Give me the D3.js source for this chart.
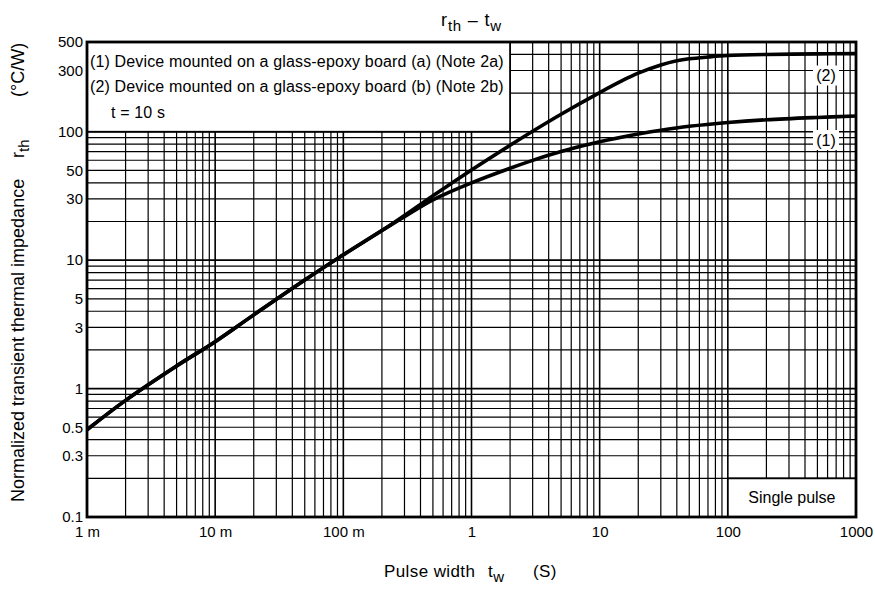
<!DOCTYPE html>
<html><head><meta charset="utf-8">
<script src="https://cdn.jsdelivr.net/npm/d3@7"></script>
<style>body{margin:0;background:#fff;} text{font-family:"Liberation Sans",Arial,sans-serif;fill:#000;}</style>
</head><body><svg id="c" width="875" height="590"></svg>
<script>
const xTickValues = [0.001, 0.01, 0.1, 1, 10, 100, 1000];
const xTickLabels = ["1 m", "10 m", "100 m", "1", "10", "100", "1000"];
const yTickValues = [0.1, 0.3, 0.5, 1, 3, 5, 10, 30, 50, 100, 300, 500];
const yTickLabels = ["0.1", "0.3", "0.5", "1", "3", "5", "10", "30", "50", "100", "300", "500"];
const curve1T = [0.001, 0.002, 0.005, 0.01, 0.02, 0.05, 0.1, 0.2, 0.3, 0.5, 1, 2, 3, 5, 10, 20, 30, 50, 100, 200, 500, 1000];
const curve1R = [0.478, 0.81, 1.5, 2.32, 3.75, 7.0, 11.0, 17.0, 21.8, 29.5, 40, 52, 59.9, 70.2, 83.5, 95.9, 102.7, 110.3, 118.2, 124.1, 129.3, 132.5];
const curve2T = [0.001, 0.002, 0.005, 0.01, 0.02, 0.05, 0.1, 0.2, 0.3, 0.5, 1, 2, 3, 5, 10, 15, 20, 30, 40, 50, 70, 100, 200, 500, 1000];
const curve2R = [0.478, 0.81, 1.5, 2.32, 3.75, 7.0, 11.0, 17.0, 22.3, 31.7, 50.4, 78.5, 101, 137, 202, 250, 286, 331, 357, 370, 382, 392, 400, 404, 406];

const svg = d3.select("#c");
const L = 87, R = 856, T = 42, B = 517;
const x = d3.scaleLog().domain([0.001, 1000]).range([L, R]);
const y = d3.scaleLog().domain([0.1, 500]).range([B, T]);

// grid
const xMinor = [], yMinor = [];
for (let d = 0.001; d < 1000; d *= 10) for (let k = 2; k <= 9; k++) xMinor.push(+(d * k).toPrecision(3));
for (let d = 0.1; d < 500; d *= 10) for (let k = 2; k <= 9; k++) { const v = +(d * k).toPrecision(3); if (v < 500) yMinor.push(v); }
const g = svg.append("g");
g.selectAll(".vx").data(xMinor.concat(xTickValues)).join("line")
  .attr("x1", d => x(d)).attr("x2", d => x(d)).attr("y1", T).attr("y2", B)
  .attr("stroke", "#000").attr("stroke-width", d => xTickValues.includes(d) ? 1.6 : 1.2);
g.selectAll(".hy").data(yMinor.concat([0.1, 1, 10, 100])).join("line")
  .attr("x1", L).attr("x2", R).attr("y1", d => y(d)).attr("y2", d => y(d))
  .attr("stroke", "#000").attr("stroke-width", d => [1, 10, 100].includes(d) ? 1.6 : 1.2);

// legend box (covers grid)
svg.append("rect").attr("x", L).attr("y", T).attr("width", x(2) - L).attr("height", y(100) - T)
  .attr("fill", "#fff").attr("stroke", "#000").attr("stroke-width", 1.8);
const lg = [["(1) Device mounted on a glass-epoxy board (a) (Note 2a)", 90, 67],
            ["(2) Device mounted on a glass-epoxy board (b) (Note 2b)", 90, 92],
            ["t = 10 s", 111, 118]];
svg.selectAll(".lg").data(lg).join("text").attr("x", d => d[1]).attr("y", d => d[2])
  .attr("font-size", 16).attr("letter-spacing", 0.15).text(d => d[0]);

// single pulse box
svg.append("rect").attr("x", x(100)).attr("y", y(0.2)).attr("width", R - x(100)).attr("height", B - y(0.2))
  .attr("fill", "#fff").attr("stroke", "#000").attr("stroke-width", 1.8);
svg.append("text").attr("x", (x(100) + R) / 2).attr("y", 503).attr("text-anchor", "middle")
  .attr("font-size", 16).text("Single pulse");

// curves
const line = d3.line().x(d => x(d[0])).y(d => y(d[1])).curve(d3.curveCatmullRom.alpha(0.5));
[[curve1T, curve1R], [curve2T, curve2R]].forEach(([t, r]) => {
  svg.append("path").datum(t.map((v, i) => [v, r[i]])).attr("d", line)
    .attr("fill", "none").attr("stroke", "#000").attr("stroke-width", 3.6).attr("stroke-linejoin", "round");
});

// curve labels
[["(2)", 75.5], ["(1)", 140]].forEach(([s, yy]) => {
  svg.append("rect").attr("x", 813).attr("y", yy - 10).attr("width", 26).attr("height", 20).attr("fill", "#fff");
  svg.append("text").attr("x", 826).attr("y", yy + 5.5).attr("text-anchor", "middle").attr("font-size", 16).text(s);
});

// frame
svg.append("rect").attr("x", L).attr("y", T).attr("width", R - L).attr("height", B - T)
  .attr("fill", "none").attr("stroke", "#000").attr("stroke-width", 2.8);

// axes tick labels
const xa = d3.axisBottom(x).tickValues(xTickValues).tickFormat((d, i) => xTickLabels[i]).tickSize(0).tickPadding(9);
const xg = svg.append("g").attr("transform", `translate(0,${B})`).call(xa);
xg.select(".domain").remove();
xg.selectAll("text").attr("font-size", 15).attr("font-family", "Liberation Sans, Arial, sans-serif").attr("fill", "#000");
const ya = d3.axisLeft(y).tickValues(yTickValues).tickFormat((d, i) => yTickLabels[i]).tickSize(0).tickPadding(4);
const yg = svg.append("g").attr("transform", `translate(${L},0)`).call(ya);
yg.select(".domain").remove();
yg.selectAll("text").attr("font-size", 15).attr("font-family", "Liberation Sans, Arial, sans-serif").attr("fill", "#000");

// title
const tt = svg.append("text").attr("x", 471.5).attr("y", 26).attr("text-anchor", "middle").attr("font-size", 18).attr("letter-spacing", 0.8);
tt.append("tspan").text("r");
tt.append("tspan").attr("dy", 5).attr("font-size", 15).text("th");
tt.append("tspan").attr("dy", -5).text(" \u2013 t");
tt.append("tspan").attr("dy", 5).attr("font-size", 15).text("w");

// x label
const xl = svg.append("text").attr("y", 577).attr("font-size", 17).attr("letter-spacing", 0.4);
xl.append("tspan").attr("x", 384).text("Pulse width");
xl.append("tspan").attr("x", 488).text("t");
xl.append("tspan").attr("dy", 5).attr("font-size", 15).text("w");
xl.append("tspan").attr("x", 533).attr("dy", -5).text("(S)");

// y label
const yl = svg.append("text").attr("transform", "translate(24,0) rotate(-90)").attr("font-size", 18);
yl.append("tspan").attr("x", -502).text("Normalized transient thermal impedance");
yl.append("tspan").attr("x", -158).text("r");
yl.append("tspan").attr("dy", 5).attr("font-size", 15).text("th");
yl.append("tspan").attr("x", -97).attr("dy", -5).text("(\u00B0C/W)");
</script></body></html>
